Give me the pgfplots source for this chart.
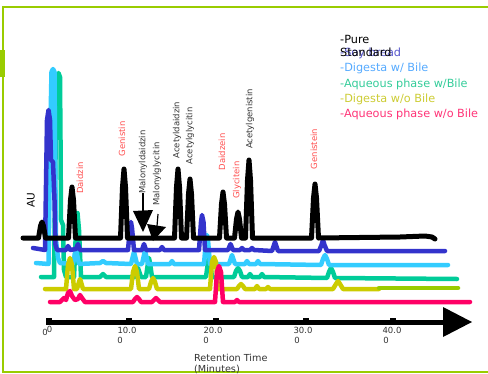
\documentclass[border=0pt]{standalone}
\usepackage{pgfplots}
\pgfplotsset{compat=1.18}
\usepackage{fontspec}
\setmainfont{DejaVu Sans}
\definecolor{framec}{HTML}{99CC00}
\definecolor{cblack}{HTML}{000000}
\definecolor{cblue}{HTML}{3333CC}
\definecolor{ccyan}{HTML}{33CCFF}
\definecolor{cgreen}{HTML}{00CC99}
\definecolor{cyellow}{HTML}{CCCC00}
\definecolor{cyg}{HTML}{99CC00}
\definecolor{cpink}{HTML}{FF0066}
\definecolor{lred}{HTML}{FF4D4D}
\definecolor{lgray}{HTML}{333333}
\definecolor{lgsoy}{HTML}{5555CC}
\definecolor{lgdig}{HTML}{55AAFF}
\definecolor{lgaq}{HTML}{33CC99}
\definecolor{lgdigo}{HTML}{CCCC33}
\definecolor{lgaqo}{HTML}{FF3377}
\begin{document}
\begin{tikzpicture}
\begin{axis}[width=488bp,height=374bp,scale only axis,
  xmin=0,xmax=488,ymin=0,ymax=374,y dir=reverse,
  hide axis,clip=false,
  every axis plot/.append style={line join=round,line cap=round,mark=none}]
% frame
\draw[framec,line width=2bp] (axis cs:492,7) -- (axis cs:3,7) -- (axis cs:3,372) -- (axis cs:492,372);
\fill[framec] (axis cs:0,50) rectangle (axis cs:4.5,77);
% green trace
\addplot[cgreen,line width=4.5bp] coordinates {
(41,277)(54,277)(56,120)(57,77)(58.5,73)(60,77)(60.5,140)(61,220)(63,225)(64,270)(66,277)
(74,277)(76,230)(77.5,213)(79,230)(81,277)
(100,277)(103,274)(106,277)
(135,277)(137,271)(138,268)(139,271)(141,277)
(146,277)(148,263)(149,258)(150,263)(152,277)
(206,277)(208,262)(209,258)(210,262)(212,277)
(234,277)(236,271)(238,268)(240,271)(242,277)
(248,277)(250,274)(252,277)(260,277)(262,274)(264,277)
(327,278)(329,272)(331,268)(333,272)(335,278)
(457,279)};
% cyan trace
\addplot[ccyan,line width=4.5bp] coordinates {
(36,263)(48.5,264)(50.5,120)(51.5,72)(53,69)(54.5,72)(55,140)(56,240)(58,258)(60,263)
(73,264)(75,254)(76,250)(77,254)(79,264)
(100,263)(103,261)(106,263)
(131,264)(133,256)(134,252)(135,256)(137,264)
(142,264)(144,255)(145,250)(146,255)(148,264)
(170,264)(172,261)(174,264)
(204,264)(206,240)(207,235)(208,240)(210,264)
(229,264)(231,258)(232,255)(233,258)(235,264)
(245,264)(247,261)(249,264)(256,264)(258,261)(260,264)
(321,265)(323,259)(325,255)(327,259)(329,265)
(448,265)};
% blue trace
\addplot[cblue,line width=4.5bp] coordinates {
(33,248)(45,250)(47,120)(48.5,110)(50,120)(51,160)(53,162)(54.5,200)(55.5,245)(57,250)
(66,250)(68,246)(70,250)(76,249)(78,244)(80,250)
(128,250)(130,228)(131,222)(132,228)(134,250)
(142,250)(144,244)(146,250)
(160,250)(162,247)(164,250)
(199,250)(201,222)(202,215)(203.5,222)(205,250)
(228,250)(230.5,244)(233,250)
(240,250)(242,248)(244,250)(250,250)(252,248)(254,250)
(272,251)(274,245)(275,242)(276,245)(278,251)
(319,251)(321.5,245)(323,240)(324.5,245)(327,251)
(445,251)};
% yellow trace
\addplot[cyellow,line width=4.5bp] coordinates {
(45,289)(66,289)(68,265)(70,258)(72,265)(74,289)
(77,289)(79,282)(80,279)(81,282)(83,289)
(131,289)(133,272)(135,266)(137,272)(139,289)
(149,289)(151,282)(153,278)(155,282)(157,289)
(210,289)(212,262)(214,257)(216,262)(218,289)
(237,289)(239,286)(241,284)(243,286)(245,289)
(255,289)(257,286)(259,289)(266,289)(268,287)(270,289)
(333,289)(336,284)(338,281)(340,284)(343,289)
(379,289)};
\addplot[cyg,line width=4.5bp] coordinates {(379,288)(458,288)};
% pink trace
\addplot[cpink,line width=4.5bp] coordinates {
(50,302)(60,302)(64,298)(66,300)(68,293)(70,291)(72,296)(75,300)(78,299)(80,295)(82,298)(85,302)
(133,302)(135,299)(137,297)(139,299)(141,302)
(152,302)(154,300)(156,298)(158,300)(160,302)
(215,302)(217,272)(219,266)(221,272)(223,302)
(235,302)(237,300)(239,302)
(470,302)};
% black trace (pure standard)
\addplot[cblack,line width=5bp] coordinates {
(23,238)(38.5,238)(40.5,226)(42,222)(43.5,226)(45.5,238)
(68.5,238)(70.5,200)(72,187)(73.5,200)(75.5,238)
(120.5,238)(122.5,187)(124,169)(125.5,187)(127.5,238)
(174.5,238)(176.5,187)(178,169)(179.5,187)(181.5,238)
(186.5,238)(188.5,194)(190,179)(191.5,194)(193.5,238)
(219.5,238)(221.5,204)(223,192)(224.5,204)(226.5,238)
(234.5,238)(236.5,219)(238,212)(239.5,219)(241.5,238)
(245.5,238)(247.5,180)(249,160)(250.5,180)(252.5,238)
(311.5,238)(313.5,198)(315,184)(316.5,198)(318.5,238)
(400,237)(425,236)(432,237)(435,239)};
% arrows
\draw[black,line width=1.2bp] (axis cs:143,193) -- (axis cs:143,212);
\fill[black] (axis cs:133,211) -- (axis cs:153,210) -- (axis cs:143,232) -- cycle;
\draw[black,line width=1.2bp] (axis cs:158,214) -- (axis cs:157,226);
\fill[black] (axis cs:147,224) -- (axis cs:166,227) -- (axis cs:153,241) -- cycle;
% time axis
\draw[black,line width=5bp] (axis cs:47,322) -- (axis cs:444,322);
\fill[black] (axis cs:443,307) -- (axis cs:443,337) -- (axis cs:472,322) -- cycle;
\fill[black] (axis cs:46,318) rectangle (axis cs:52,325);
\fill[black] (axis cs:126,318) rectangle (axis cs:132,325);
\fill[black] (axis cs:213,318) rectangle (axis cs:219,325);
\fill[black] (axis cs:303,318) rectangle (axis cs:309,325);
\fill[black] (axis cs:390,318) rectangle (axis cs:396,325);
% tick labels
\begin{scope}[every node/.style={font=\fontsize{8.5}{9}\selectfont,text=lgray,inner sep=0pt}]
\node at (axis cs:45,332.5) {0};
\node at (axis cs:49.5,329.5) {0};
\node at (axis cs:127,330) {10.0};
\node at (axis cs:120,340) {0};
\node at (axis cs:213,330) {20.0};
\node at (axis cs:206,340) {0};
\node at (axis cs:303,330) {30.0};
\node at (axis cs:297,340) {0};
\node at (axis cs:392,330) {40.0};
\node at (axis cs:386,340) {0};
\end{scope}
\node[font=\fontsize{9.7}{10}\selectfont,text=lgray,anchor=west,inner sep=0pt] at (axis cs:194,358) {Retention Time};
\node[font=\fontsize{9.7}{10}\selectfont,text=lgray,anchor=west,inner sep=0pt] at (axis cs:194,369.5) {(Minutes)};
\node[font=\fontsize{10.5}{11}\selectfont,text=black,rotate=90,inner sep=0pt] at (axis cs:31,200) {AU};
% compound labels
\begin{scope}[every node/.style={font=\fontsize{8.5}{9}\selectfont,rotate=90,inner sep=0pt}]
\node[text=lred] at (axis cs:80,178) {Daidzin};
\node[text=lred] at (axis cs:122,139) {Genistin};
\node[text=lgray] at (axis cs:143,162) {Malonyldaidzin};
\node[text=lgray] at (axis cs:157,174) {Malonylglycitin};
\node[text=lgray] at (axis cs:177,130) {Acetyldaidzin};
\node[text=lgray] at (axis cs:190,136) {Acetylglycitin};
\node[text=lred] at (axis cs:222,152) {Daidzein};
\node[text=lred] at (axis cs:237,180) {Glycitein};
\node[text=lgray] at (axis cs:250,119) {Acetylgenistin};
\node[text=lred] at (axis cs:314,149) {Genistein};
\end{scope}
% legend text
\begin{scope}[every node/.style={font=\fontsize{11.3}{12}\selectfont,anchor=west,inner sep=0pt}]
\node[text=lgsoy] at (axis cs:340,53.5) {-Soy bread};
\node[text=black] at (axis cs:340,39) {-Pure};
\node[text=black] at (axis cs:340,52) {Standard};
\node[text=lgdig] at (axis cs:340,68) {-Digesta w/ Bile};
\node[text=lgaq] at (axis cs:340,84) {-Aqueous phase w/Bile};
\node[text=lgdigo] at (axis cs:340,99) {-Digesta w/o Bile};
\node[text=lgaqo] at (axis cs:340,114) {-Aqueous phase w/o Bile};
\end{scope}
\end{axis}
\pgfresetboundingbox
\path (current axis.south west) rectangle (current axis.north east);
\end{tikzpicture}
\end{document}
